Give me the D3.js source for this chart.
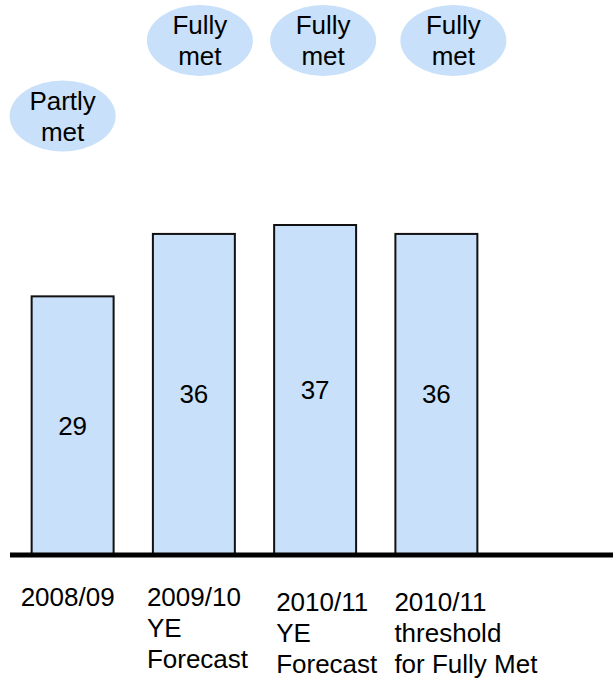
<!DOCTYPE html>
<html>
<head>
<meta charset="utf-8">
<script src="https://cdn.jsdelivr.net/npm/d3@7"></script>
<style>
  body { margin: 0; background: #fff; }
  svg { display: block; font-family: "Liberation Sans", Arial, sans-serif; }
</style>
</head>
<body>
<svg width="613" height="680"></svg>
<script>
const categories = ["2008/09", "2009/10 YE Forecast", "2010/11 YE Forecast", "2010/11 threshold for Fully Met"];
const categoryLines = [["2008/09"], ["2009/10", "YE", "Forecast"], ["2010/11", "YE", "Forecast"], ["2010/11", "threshold", "for Fully Met"]];
const values = [29, 36, 37, 36];
const statuses = ["Partly\nmet", "Fully\nmet", "Fully\nmet", "Fully\nmet"];

const fill = "#c8e0f9";
const fontSize = 26;
const baseY = 555;

// small hand nudges so labels sit where the original placed them
const labelDx = [-11, -6, 2, -1];
const labelDy = [0, 0, 5, 5];
const bubbleDx = [-10, 6, 8, 17];
const statusY = { "Partly\nmet": 116, "Fully\nmet": 40.5 };

let svg = d3.select("svg");

let x = d3.scaleBand(categories, [12, 497]).paddingInner(0.324).paddingOuter(0.162);
let y = d3.scaleLinear([0, 37], [baseY, 225]);

svg.selectAll(".bar")
    .data(values)
    .join("rect")
    .attr("class", "bar")
    .attr("x", (d, i) => x(categories[i]))
    .attr("width", x.bandwidth())
    .attr("y", d => y(d))
    .attr("height", d => y(0) - y(d))
    .style("fill", fill)
    .style("stroke", "#111")
    .style("stroke-width", 2);

svg.selectAll(".value")
    .data(values)
    .join("text")
    .attr("class", "value")
    .attr("x", (d, i) => x(categories[i]) + x.bandwidth() / 2)
    .attr("y", d => (y(d) + y(0)) / 2 + 9)
    .attr("text-anchor", "middle")
    .style("font-size", fontSize + "px")
    .text(d => d);

// axis base line
svg.append("line")
    .attr("x1", 10).attr("x2", 613)
    .attr("y1", y(0)).attr("y2", y(0))
    .style("stroke", "#000")
    .style("stroke-width", 5);

// category labels, left aligned under each bar
let labels = svg.selectAll(".cat")
    .data(categoryLines)
    .join("text")
    .attr("class", "cat")
    .style("font-size", fontSize + "px");
labels.selectAll("tspan")
    .data((lines, i) => lines.map(t => ({ t, i })))
    .join("tspan")
    .attr("x", d => x(categories[d.i]) + labelDx[d.i])
    .attr("y", (d, j) => 606 + labelDy[d.i] + j * 31)
    .text(d => d.t);

// status bubbles
let bubbles = svg.selectAll(".status")
    .data(statuses)
    .join("g")
    .attr("class", "status")
    .attr("transform", (d, i) =>
        `translate(${x(categories[i]) + x.bandwidth() / 2 + bubbleDx[i]},${statusY[d]})`);
bubbles.append("ellipse")
    .attr("rx", 53)
    .attr("ry", 35.5)
    .style("fill", fill);
bubbles.append("text")
    .attr("text-anchor", "middle")
    .style("font-size", fontSize + "px")
    .selectAll("tspan")
    .data(d => d.split("\n"))
    .join("tspan")
    .attr("x", 0)
    .attr("y", (d, j) => -6.5 + j * 31)
    .text(d => d);
</script>
</body>
</html>
